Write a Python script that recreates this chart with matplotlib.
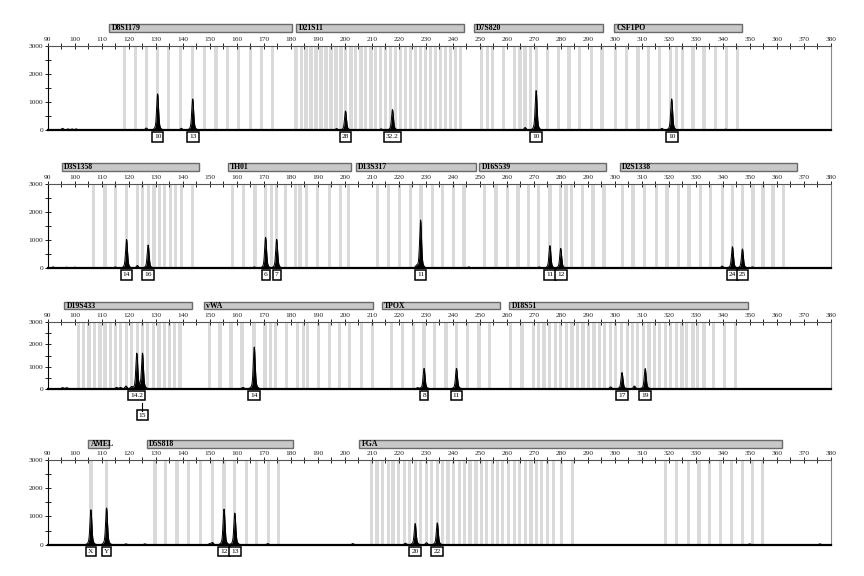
import matplotlib
matplotlib.use("Agg")
import matplotlib.pyplot as plt
import numpy as np
from matplotlib.transforms import blended_transform_factory
from matplotlib.ticker import MultipleLocator
from matplotlib.patches import Rectangle

# ---------------- data (bp positions / RFU heights) ----------------
# Panel 1
loci_p1 = ["D8S1179", "D21S11", "D7S820", "CSF1PO"]
locus_start_p1 = [112.7, 182.0, 247.8, 299.7]
locus_end_p1 = [180.5, 244.0, 295.6, 347.0]
bins_D8S1179 = [118.4, 122.6, 126.7, 130.7, 134.8, 139.1, 143.7, 148.1, 152.3, 156.7, 160.8, 165.0, 169.2, 173.3]
bins_D21S11 = [182.0, 183.9, 185.7, 187.5, 189.4, 191.2, 193.1, 194.9, 196.8, 198.6, 200.4, 202.3, 204.1,
               206.0, 207.8, 209.7, 211.5, 213.3, 215.2, 217.0, 218.9, 220.7, 222.6, 224.4, 226.2, 228.1,
               229.9, 231.8, 233.6, 235.5, 237.3, 239.1, 241.0, 242.8]
bins_D7S820 = [250.7, 252.8, 254.8, 258.8, 262.9, 264.9, 266.8, 268.9, 271.0, 275.0, 279.1, 283.1, 287.1, 291.3, 295.3]
bins_CSF1PO = [300.3, 304.4, 308.6, 312.6, 316.7, 320.8, 322.9, 325.0, 329.0, 333.1, 337.3, 341.4, 345.5]
peak_pos_p1 = [130.7, 143.7, 200.3, 217.7, 270.9, 321.1]
peak_ht_p1 = [1290, 1110, 680, 730, 1410, 1110]
allele_p1 = ["10", "13", "28", "32.2", "10", "10"]
minor_pos_p1 = [95.5, 97.5, 99.0, 100.5, 126.5, 139.5, 197.0, 213.5, 266.8, 317.5, 341.0]
minor_ht_p1 = [60, 40, 40, 40, 70, 60, 50, 40, 90, 60, 30]

# Panel 2
loci_p2 = ["D3S1358", "TH01", "D13S317", "D16S539", "D2S1338"]
locus_start_p2 = [95.2, 156.6, 204.1, 249.8, 301.9]
locus_end_p2 = [146.0, 202.5, 248.8, 296.6, 367.7]
bins_D3S1358 = [107.1, 111.2, 115.2, 119.2, 123.2, 125.2, 127.2, 129.4, 131.3, 133.3, 135.4, 137.4, 139.6, 143.7]
bins_TH01 = [158.5, 162.6, 166.8, 170.7, 172.9, 174.8, 178.2, 181.9, 183.4, 185.9, 190.0, 194.5, 198.5, 201.3]
bins_D13S317 = [212.2, 216.1, 220.2, 224.4, 228.3, 232.4, 236.1, 240.2, 244.2]
bins_D16S539 = [251.9, 256.0, 260.2, 264.2, 268.0, 271.9, 276.0, 280.0, 282.0, 284.0, 288.1, 292.0, 296.0]
bins_D2S1338 = [302.9, 306.8, 311.1, 315.5, 319.4, 323.5, 327.5, 331.8, 335.6, 339.8, 343.6, 347.3, 351.2,
                354.9, 358.6, 362.6]
peak_pos_p2 = [119.2, 127.2, 170.7, 174.8, 228.1, 276.0, 280.0, 343.6, 347.3]
peak_ht_p2 = [1020, 820, 1095, 1024, 1714, 800, 700, 760, 680]
allele_p2 = ["14", "16", "6", "7", "11", "11", "12", "24", "25"]
minor_pos_p2 = [92.0, 97.0, 100.0, 123.2, 115.0, 166.5, 226.5, 246.0, 272.0, 339.8, 351.0]
minor_ht_p2 = [40, 30, 30, 90, 40, 40, 70, 40, 40, 70, 40]

# Panel 3
loci_p3 = ["D19S433", "vWA", "TPOX", "D18S51"]
locus_start_p3 = [96.2, 147.9, 213.7, 260.9]
locus_end_p3 = [143.3, 210.6, 257.5, 349.4]
bins_D19S433 = [101.3, 103.2, 105.3, 107.3, 109.4, 111.2, 113.3, 115.2, 117.1, 119.2, 121.1, 123.2, 125.2,
                127.1, 129.1, 131.2, 133.2, 135.0, 137.1, 139.0]
bins_vWA = [149.8, 153.8, 157.9, 162.0, 166.4, 170.5, 172.6, 174.4, 178.5, 182.6, 184.6, 186.3, 190.2,
            194.3, 198.2, 201.9, 206.3, 210.3]
bins_TPOX = [217.4, 221.3, 225.4, 229.4, 233.4, 237.5, 241.4, 245.5, 249.7, 253.5]
bins_D18S51 = [261.5, 265.7, 269.8, 271.9, 273.8, 275.9, 278.0, 279.9, 282.1, 284.2, 286.2, 288.3, 290.4,
               292.3, 294.5, 296.3, 298.4, 300.4, 302.5, 304.6, 306.6, 308.4, 310.7, 312.7, 314.8, 316.7,
               318.8, 320.7, 322.8, 324.9, 326.7, 329.0, 330.8, 333.1, 336.7, 340.7, 344.7]
peak_pos_p3 = [123.0, 125.1, 166.5, 229.4, 241.4, 302.7, 311.3]
peak_ht_p3 = [1600, 1600, 1880, 920, 920, 730, 910]
allele_p3 = ["14.2", "15", "14", "8", "11", "17", "19"]
label_level_p3 = [0, 1, 0, 0, 0, 0, 0]
minor_pos_p3 = [95.5, 97.0, 115.5, 117.0, 119.0, 121.0, 162.3, 227.0, 298.5, 307.3]
minor_ht_p3 = [50, 50, 60, 60, 120, 90, 60, 50, 80, 120]

# Panel 4
loci_p4 = ["AMEL", "D5S818", "FGA"]
locus_start_p4 = [105.0, 126.7, 205.4]
locus_end_p4 = [112.8, 180.7, 361.8]
bins_AMEL = [106.0, 111.8]
bins_D5S818 = [129.7, 133.7, 137.9, 142.2, 146.6, 150.9, 155.3, 159.3, 163.7, 167.4, 171.7, 175.6]
bins_FGA = [210.0, 212.0, 214.0, 216.1, 217.9, 220.0, 222.1, 224.0, 226.2, 228.1, 230.2, 232.2, 234.3, 236.3,
            238.3, 240.4, 242.5, 244.4, 246.4, 248.6, 250.6, 252.6, 254.6, 256.6, 258.5, 260.6, 262.8,
            264.6, 266.9, 269.0, 271.0, 273.0, 275.1, 277.3, 280.4, 284.4, 318.8, 322.9, 327.2, 331.2,
            335.2, 339.3, 343.2, 347.3, 351.0, 354.7]
peak_pos_p4 = [106.0, 111.8, 155.3, 159.3, 226.1, 234.3]
peak_ht_p4 = [1240, 1300, 1262, 1119, 750, 775]
allele_p4 = ["X", "Y", "12", "13", "20", "22"]
minor_pos_p4 = [151.0, 119.0, 126.0, 150.0, 171.5, 203.0, 222.5, 230.3, 350.0, 376.0]
minor_ht_p4 = [80, 30, 30, 40, 40, 40, 50, 70, 30, 30]

# ---------------- layout (pixels) ----------------
W, H = 864, 576
AX_L, AX_R = 47.7, 830.7
panel_top = [46.0, 184.0, 322.3, 460.0]
panel_bot = [130.0, 268.0, 388.7, 544.7]
bar_top = [24.0, 163.0, 301.7, 440.0]
bar_bot = [32.0, 171.0, 309.3, 447.7]

panels = [
    dict(loci=loci_p1, ls=locus_start_p1, le=locus_end_p1,
         bins=[bins_D8S1179, bins_D21S11, bins_D7S820, bins_CSF1PO],
         pp=peak_pos_p1, ph=peak_ht_p1, al=allele_p1, lv=[0] * len(allele_p1),
         mp=minor_pos_p1, mh=minor_ht_p1),
    dict(loci=loci_p2, ls=locus_start_p2, le=locus_end_p2,
         bins=[bins_D3S1358, bins_TH01, bins_D13S317, bins_D16S539, bins_D2S1338],
         pp=peak_pos_p2, ph=peak_ht_p2, al=allele_p2, lv=[0] * len(allele_p2),
         mp=minor_pos_p2, mh=minor_ht_p2),
    dict(loci=loci_p3, ls=locus_start_p3, le=locus_end_p3,
         bins=[bins_D19S433, bins_vWA, bins_TPOX, bins_D18S51],
         pp=peak_pos_p3, ph=peak_ht_p3, al=allele_p3, lv=label_level_p3,
         mp=minor_pos_p3, mh=minor_ht_p3),
    dict(loci=loci_p4, ls=locus_start_p4, le=locus_end_p4,
         bins=[bins_AMEL, bins_D5S818, bins_FGA],
         pp=peak_pos_p4, ph=peak_ht_p4, al=allele_p4, lv=[0] * len(allele_p4),
         mp=minor_pos_p4, mh=minor_ht_p4),
]

SERIF = ["Liberation Serif", "DejaVu Serif"]
fig = plt.figure(figsize=(W / 100, H / 100), dpi=100)
fig.patch.set_facecolor("white")

xs = np.linspace(90, 380, 14501)

for i, p in enumerate(panels):
    top, bot = panel_top[i], panel_bot[i]
    ax = fig.add_axes([AX_L / W, 1 - bot / H, (AX_R - AX_L) / W, (bot - top) / H])
    ax.set_xlim(90, 380)
    ax.set_ylim(0, 3000)

    # bins
    for blist in p["bins"]:
        for b in blist:
            ax.axvspan(b - 0.6, b + 0.6, color="#dadada", lw=0, zorder=0)

    # trace built from listed peaks
    ys = np.zeros_like(xs)
    for pos, ht in zip(p["pp"], p["ph"]):
        ys += 0.85 * ht * np.exp(-0.5 * ((xs - pos) / 0.33) ** 2)
        ys += 0.15 * ht * np.exp(-0.5 * ((xs - pos) / 0.8) ** 2)
    for pos, ht in zip(p["mp"], p["mh"]):
        ys += ht * np.exp(-0.5 * ((xs - pos) / 0.38) ** 2)
    ax.fill_between(xs, 0, ys, color="black", lw=0, zorder=3)
    ax.plot(xs, ys, color="black", lw=0.7, zorder=3)

    # spines & ticks
    ax.spines["left"].set_color("black")
    ax.spines["bottom"].set_color("black")
    ax.spines["bottom"].set_linewidth(1.6)
    ax.spines["top"].set_color("#555555")
    ax.spines["right"].set_color("#8a8a8a")
    for s in ax.spines.values():
        s.set_zorder(4)
    ax.xaxis.tick_top()
    ax.set_xticks(np.arange(90, 381, 10))
    ax.xaxis.set_minor_locator(MultipleLocator(5))
    ax.tick_params(axis="x", which="both", direction="inout", length=4, width=0.7,
                   pad=1.2, labelsize=5.3, top=True, bottom=False, colors="#222222")
    ax.set_yticks([0, 1000, 2000, 3000])
    ax.yaxis.set_minor_locator(MultipleLocator(500))
    ax.tick_params(axis="y", which="both", direction="inout", length=4, width=0.7,
                   pad=1.2, labelsize=5.3, colors="#222222")
    for lab in ax.get_xticklabels() + ax.get_yticklabels():
        lab.set_family(SERIF)

    trans = blended_transform_factory(ax.transData, fig.transFigure)

    # locus bars
    for name, s, e in zip(p["loci"], p["ls"], p["le"]):
        rect = Rectangle((s, 1 - bar_bot[i] / H), e - s, (bar_bot[i] - bar_top[i]) / H,
                         transform=trans, facecolor="#c8c8c8", edgecolor="#6a6a6a",
                         lw=1.0, clip_on=False, zorder=5)
        ax.add_patch(rect)
        ax.text(s + 0.9, 1 - (bar_top[i] + bar_bot[i]) / 2 / H, name, transform=trans,
                ha="left", va="center", fontsize=5.6, fontweight="bold",
                family=SERIF, clip_on=False, zorder=6)

    # allele labels
    for pos, lab, lv in zip(p["pp"], p["al"], p["lv"]):
        off = 4.5 if lv == 0 else 24.0
        ax.text(pos, 1 - (bot + off) / H, lab, transform=trans, ha="center", va="top",
                fontsize=5.3, family=SERIF, clip_on=False, zorder=6,
                bbox=dict(boxstyle="square,pad=0.3", fc="white", ec="black", lw=1.1))
        if lv == 1:
            ax.plot([pos, pos], [1 - (bot + 14.0) / H, 1 - (bot + 22.5) / H],
                    transform=trans, color="black", lw=0.8, clip_on=False, zorder=6)

fig.savefig("out.png", dpi=100, facecolor="white")
